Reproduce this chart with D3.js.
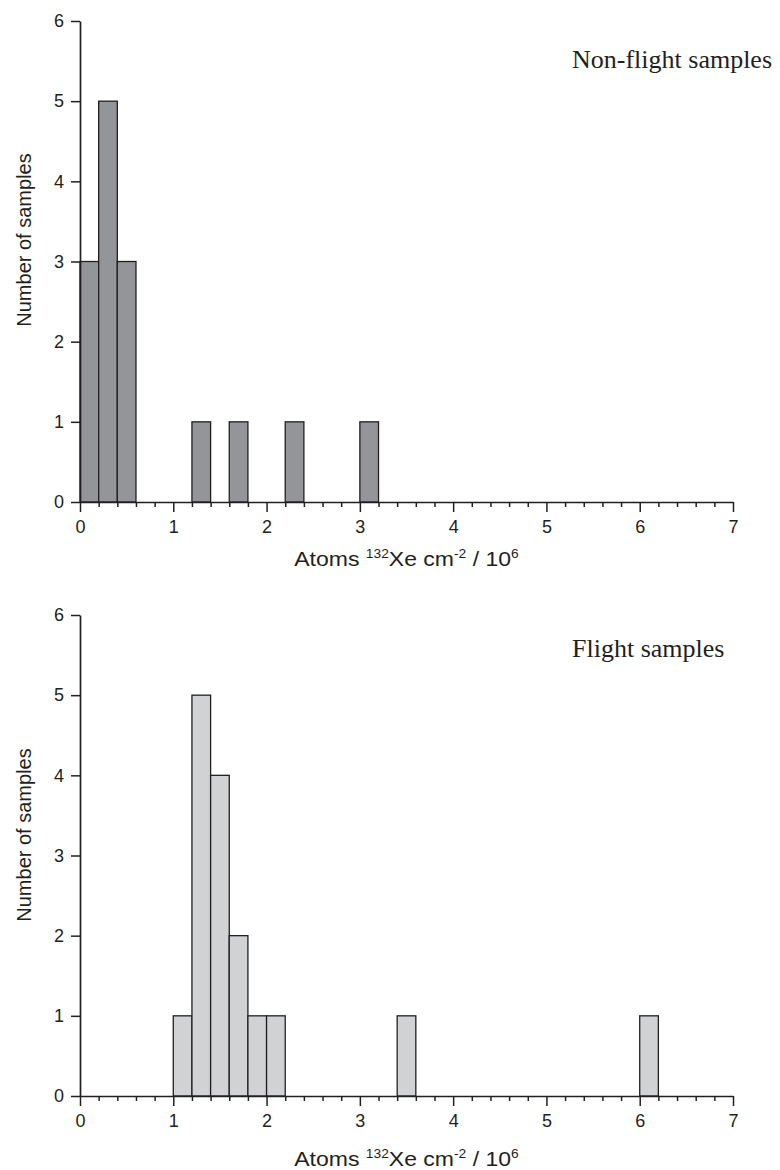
<!DOCTYPE html>
<html>
<head>
<meta charset="utf-8">
<script src="https://cdn.jsdelivr.net/npm/d3@7"></script>
<style>
  html, body { margin: 0; padding: 0; background: #fff; }
  svg { display: block; }
</style>
</head>
<body>
<svg id="chart" width="780" height="1170"></svg>
<script>
// ---- data ----
const binWidth = 0.2;
const nonFlightBinStarts = [0.0, 0.2, 0.4, 1.2, 1.6, 2.2, 3.0];
const nonFlightCounts    = [3, 5, 3, 1, 1, 1, 1];
const flightBinStarts    = [1.0, 1.2, 1.4, 1.6, 1.8, 2.0, 3.4, 6.0];
const flightCounts       = [1, 5, 4, 2, 1, 1, 1, 1];
const xMajorTicks = [0, 1, 2, 3, 4, 5, 6, 7];
const xMinorTicks = d3.range(0, 35).map(i => +(i * 0.2).toFixed(1)).filter(v => Math.abs(v - Math.round(v)) > 1e-6);
const yTicks = [0, 1, 2, 3, 4, 5, 6];
const panelTitles = ["Non-flight samples", "Flight samples"];

const svg = d3.select("#chart");
const ink = "#231f20";
const sans = '"Liberation Sans", Arial, Helvetica, sans-serif';
const serif = '"Liberation Serif", "Times New Roman", Times, serif';

function panel(cfg) {
  const x = d3.scaleLinear().domain([0, 7]).range([80, 733]);
  const y = d3.scaleLinear().domain([0, 6]).range([cfg.y0, cfg.y6]);
  const g = svg.append("g");

  // bars
  const data = cfg.starts.map((s, i) => ({ s, c: cfg.counts[i] }));
  g.selectAll("rect.bar").data(data).join("rect")
    .attr("class", "bar")
    .attr("x", d => x(d.s))
    .attr("width", d => x(d.s + binWidth) - x(d.s))
    .attr("y", d => y(d.c))
    .attr("height", d => y(0) - y(d.c))
    .attr("fill", cfg.fill)
    .attr("stroke", ink)
    .attr("stroke-width", 1.3);

  // x minor ticks
  const xMinor = g.append("g").attr("transform", `translate(0,${y(0)})`)
    .call(d3.axisBottom(x).tickValues(xMinorTicks).tickSize(5).tickFormat(""));
  xMinor.select(".domain").remove();
  xMinor.selectAll("line").attr("stroke", ink).attr("stroke-width", 1.5);

  // x major axis
  const xAx = g.append("g").attr("transform", `translate(0,${y(0)})`)
    .call(d3.axisBottom(x).tickValues(xMajorTicks).tickSize(10).tickSizeOuter(0).tickPadding(8).tickFormat(d3.format("d")));
  xAx.select(".domain").attr("stroke", ink).attr("stroke-width", 1.7);
  xAx.selectAll("line").attr("stroke", ink).attr("stroke-width", 1.5);
  xAx.selectAll("text").style("font-size", "18px").style("font-family", sans).attr("fill", ink);

  // y axis
  const yAx = g.append("g").attr("transform", `translate(${x(0)},0)`)
    .call(d3.axisLeft(y).tickValues(yTicks).tickSize(9).tickSizeOuter(0).tickPadding(7).tickFormat(d3.format("d")));
  yAx.select(".domain").attr("stroke", ink).attr("stroke-width", 1.7);
  yAx.selectAll("line").attr("stroke", ink).attr("stroke-width", 1.5);
  yAx.selectAll("text").style("font-size", "18px").style("font-family", sans).attr("fill", ink);

  // y title
  g.append("text")
    .attr("transform", `translate(31,${cfg.yTitleY}) rotate(-90)`)
    .attr("text-anchor", "middle")
    .style("font-family", sans).style("font-size", "20px")
    .attr("fill", ink)
    .text("Number of samples");

  // x title
  const t = g.append("text")
    .attr("transform", `translate(${(x(0) + x(7)) / 2},${cfg.xTitleY}) scale(1.15,1)`)
    .attr("text-anchor", "middle")
    .style("font-family", sans).style("font-size", "20px")
    .attr("fill", ink);
  t.append("tspan").text("Atoms ");
  t.append("tspan").style("font-size", "12px").attr("dy", -8).text("132");
  t.append("tspan").attr("dy", 8).text("Xe cm");
  t.append("tspan").style("font-size", "12px").attr("dy", -8).text("-2");
  t.append("tspan").attr("dy", 8).text(" / 10");
  t.append("tspan").style("font-size", "12px").attr("dy", -8).text("6");

  // panel label
  g.append("text")
    .attr("x", 572)
    .attr("y", cfg.labelY)
    .style("font-family", serif).style("font-size", "26px")
    .attr("fill", ink)
    .text(cfg.label);
}

panel({ y0: 502, y6: 21, starts: nonFlightBinStarts, counts: nonFlightCounts, fill: "#939598",
        yTitleY: 240, xTitleY: 566, labelY: 68, label: panelTitles[0] });
panel({ y0: 1096, y6: 615, starts: flightBinStarts, counts: flightCounts, fill: "#d1d2d4",
        yTitleY: 835, xTitleY: 1166, labelY: 657, label: panelTitles[1] });
</script>
</body>
</html>
